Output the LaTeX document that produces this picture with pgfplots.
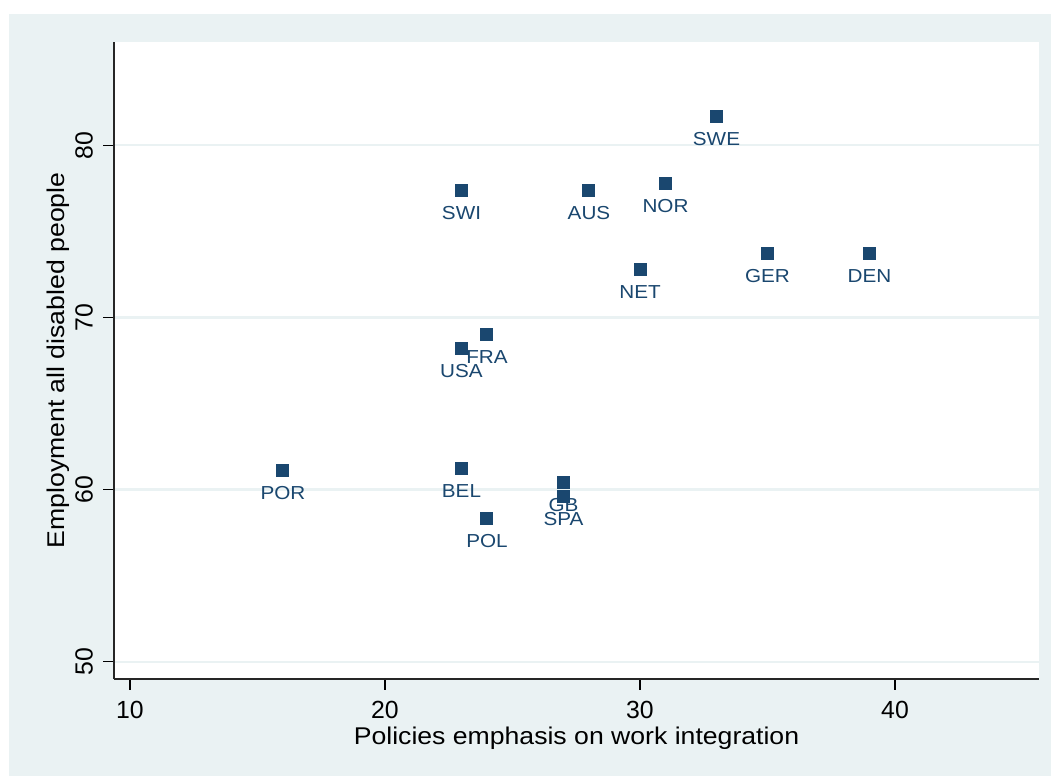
\documentclass[border=0pt]{standalone}
\usepackage{pgfplots}
\pgfplotsset{compat=1.18}
\usepackage{fontspec}
\setmainfont{Liberation Sans}
\newfontfamily\widefont[FakeStretch=1.1]{Liberation Sans}
\definecolor{bgblue}{HTML}{EAF2F3}
\definecolor{navy}{HTML}{1A476F}
\begin{document}
\begin{tikzpicture}
\useasboundingbox[fill=white] (0,0) rectangle (525.5pt,388pt);
\fill[bgblue] (4.5pt,0) rectangle (525.5pt,381pt);
\begin{axis}[
  at={(57pt,48.5pt)}, anchor=south west,
  scale only axis, width=462.5pt, height=318.5pt,
  xmin=9.373, xmax=45.647, ymin=48.995, ymax=86.0,
  axis background/.style={fill=white},
  axis x line*=bottom, axis y line*=left,
  axis line style={-, draw=black!85, line width=0.6pt},
  tick align=outside, major tick length=5.3pt,
  tick style={black, line width=0.6pt},
  xtick={10,20,30,40}, ytick={50,60,70,80},
  ymajorgrids=true,
  major grid style={color=bgblue, line width=1.1pt},
  /pgf/number format/assume math mode=true,
  tick label style={font=\fontsize{12.4}{15}\selectfont},
  xticklabel style={anchor=base, inner sep=0pt, yshift=-14.35pt},
  yticklabel style={rotate=90, anchor=base, inner sep=0pt, yshift=5.35pt},
  xlabel={Policies emphasis on work integration},
  ylabel={Employment all disabled people},
  every axis x label/.style={at={(axis description cs:0.5,-0.1025)}, anchor=base, inner sep=0pt, font=\widefont\fontsize{12.1}{15}\selectfont},
  every axis y label/.style={at={(axis description cs:-0.053,0.5)}, anchor=base, rotate=90, inner sep=0pt, font=\widefont\fontsize{12.1}{15}\selectfont},
  clip=false,
]
\addplot[only marks, mark=square*, mark size=3pt, color=navy,
  mark options={line width=0.5pt},
  nodes near coords, point meta=explicit symbolic,
  every node near coord/.style={anchor=base, inner sep=0pt, yshift=-14.5pt, text=navy, font=\widefont\fontsize{9.4}{11}\selectfont}]
 table[meta=label] {
x y label
16 61.1 POR
23 77.4 SWI
23 68.2 USA
23 61.2 BEL
24 69.0 FRA
24 58.3 POL
27 60.4 GB
27 59.6 SPA
28 77.4 AUS
30 72.8 NET
31 77.8 NOR
33 81.7 SWE
35 73.7 GER
39 73.7 DEN
};
\end{axis}
\end{tikzpicture}
\end{document}
